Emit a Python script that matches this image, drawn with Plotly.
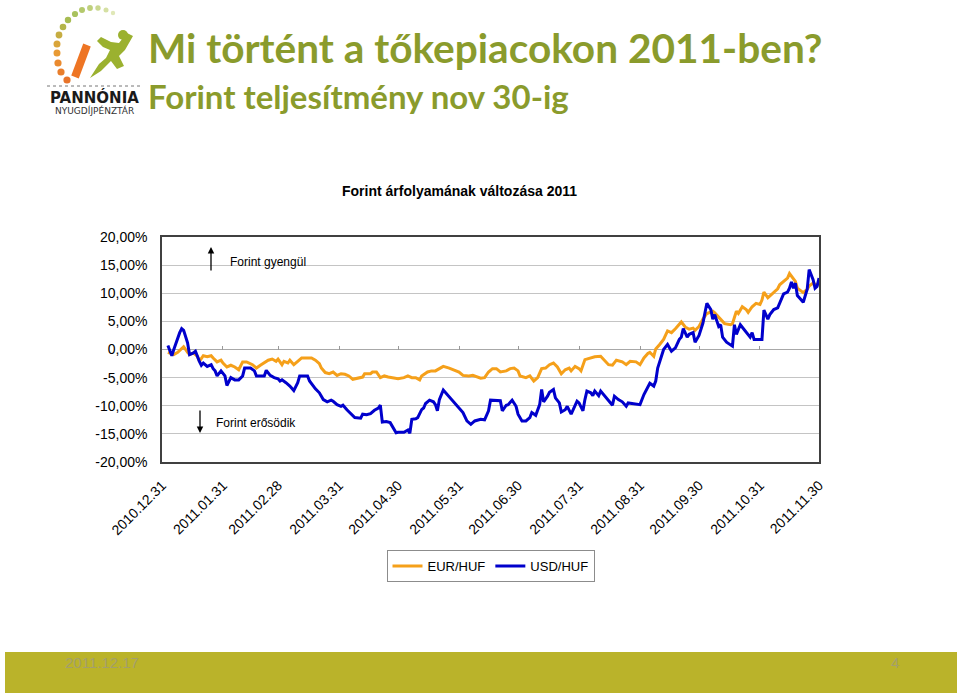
import plotly.graph_objects as go
import pandas as pd

# ---------------- data ----------------
base_date = "2010-12-31"

eur_days = [3, 6, 8, 10, 11, 13, 14, 16, 18, 19, 21, 23, 25, 26, 28, 30, 31, 33, 35, 37, 39, 41, 43, 46, 48, 50,
            52, 54, 56, 58, 59, 61, 62, 64, 65, 67, 69, 71, 74, 76, 78, 80, 81, 83, 85, 87, 89, 91, 93, 95, 97, 99,
            102, 103, 106, 107, 109, 111, 113, 115, 118, 120, 123, 125, 127, 129, 131, 132, 135, 137, 139, 141, 143,
            146, 148, 151, 153, 156, 158, 160, 162, 164, 166, 168, 170, 172, 175, 177, 179, 181, 182, 185, 187, 189,
            191, 193, 195, 197, 199, 201, 203, 205, 207, 208, 210, 212, 213, 215, 218, 220, 223, 225, 227, 229, 231,
            234, 236, 238, 241, 243, 245, 247, 248, 250, 251, 253, 255, 257, 259, 261, 263, 264, 266, 268, 270, 271,
            273, 275, 277, 280, 281, 283, 285, 286, 289, 290, 292, 293, 295, 297, 298, 300, 302, 304, 305, 306, 308,
            309, 311, 313, 314, 316, 318, 319, 320, 322, 323, 325, 326, 328, 329, 331, 333, 334]
eur_values = [-0.5, -0.9, -0.5, 0.1, 0.5, -0.5, -0.9, -0.6, -1.2, -2.1, -1.1, -1.3, -1.1, -1.5, -2.2, -1.9, -2.4,
              -3.1, -2.8, -3.1, -3.6, -2.2, -2.2, -2.7, -3.3, -2.8, -2.4, -1.9, -1.7, -2.1, -1.7, -2.7, -2.1, -2.4,
              -1.9, -2.7, -2.1, -1.5, -1.5, -1.5, -1.9, -2.5, -3.3, -4.1, -4.3, -4.0, -4.6, -4.3, -4.4, -4.7, -5.3,
              -5.1, -4.9, -4.3, -4.3, -4.0, -4.0, -5.0, -4.7, -4.9, -5.0, -5.2, -5.0, -4.7, -5.0, -5.0, -5.4, -4.7,
              -4.0, -3.8, -3.8, -3.4, -3.0, -3.3, -3.6, -4.0, -4.6, -4.7, -4.6, -4.9, -5.1, -5.0, -4.0, -3.4, -3.4,
              -4.0, -3.8, -3.4, -3.3, -3.8, -4.7, -5.0, -4.7, -5.6, -5.0, -3.4, -3.3, -2.7, -2.4, -3.1, -4.3, -3.6,
              -3.3, -3.8, -3.0, -3.4, -3.8, -1.8, -1.5, -1.3, -1.2, -1.9, -2.7, -2.8, -1.9, -2.2, -2.7, -2.1, -2.2,
              -2.7, -1.5, -0.7, -0.5, -1.2, 0.1, 0.9, 1.8, 3.3, 3.0, 3.7, 4.4, 4.9, 4.0, 3.6, 3.8, 3.4, 4.1, 5.4,
              6.4, 6.8, 6.5, 5.8, 5.0, 4.6, 4.4, 4.6, 6.8, 6.4, 7.6, 7.1, 6.6, 7.6, 8.2, 8.0, 8.8, 10.2, 9.2, 9.5,
              10.2, 10.8, 11.5, 12.1, 12.7, 13.5, 13.0, 12.1, 10.9, 10.4, 10.1, 10.7, 11.3, 11.8, 11.4, 12.0]

usd_days = [3, 5, 6, 8, 9, 10, 11, 13, 14, 16, 17, 19, 20, 21, 23, 25, 26, 27, 28, 30, 32, 33, 35, 37, 39, 41, 42,
            45, 47, 48, 51, 52, 53, 55, 57, 59, 60, 61, 63, 65, 67, 69, 70, 74, 75, 78, 80, 82, 84, 86, 87, 89, 91,
            92, 94, 97, 98, 101, 102, 104, 106, 108, 110, 111, 112, 114, 116, 119, 120, 123, 125, 126, 127, 129,
            130, 132, 133, 134, 136, 138, 139, 140, 141, 143, 145, 147, 149, 151, 153, 155, 157, 159, 162, 164,
            166, 167, 170, 172, 173, 175, 176, 178, 180, 181, 183, 185, 187, 188, 190, 192, 193, 194, 196, 197,
            199, 200, 202, 203, 205, 206, 208, 209, 211, 212, 214, 215, 216, 218, 219, 220, 222, 223, 225, 227,
            229, 230, 232, 234, 236, 237, 239, 241, 243, 245, 247, 248, 250, 251, 252, 254, 255, 257, 259, 261,
            263, 264, 265, 267, 268, 270, 271, 273, 275, 276, 277, 279, 280, 281, 282, 283, 284, 285, 287, 289,
            290, 291, 292, 294, 296, 297, 299, 300, 301, 303, 305, 306, 308, 309, 311, 313, 314, 316, 318, 319,
            320, 321, 322, 323, 324, 326, 328, 329, 331, 332, 333, 334]
usd_values = [0.7, -1.1, 0.0, 2.25, 3.0, 3.7, 3.4, 1.2, -0.9, -0.6, -0.3, -2.1, -2.8, -2.4, -3.0, -2.7, -3.4, -3.8,
              -4.7, -3.8, -4.7, -6.4, -5.0, -5.4, -5.4, -4.7, -3.3, -3.3, -3.8, -4.7, -4.7, -4.7, -3.7, -4.6, -5.0,
              -5.2, -5.6, -5.4, -5.9, -6.5, -7.3, -5.9, -4.7, -4.7, -5.6, -7.0, -7.7, -8.9, -9.3, -9.0, -9.2, -9.8,
              -10.1, -9.9, -10.7, -11.8, -12.1, -12.2, -11.5, -11.6, -11.4, -10.8, -10.4, -9.9, -12.9, -12.8, -13.0,
              -14.8, -14.7, -14.7, -14.3, -14.9, -12.4, -12.3, -12.1, -10.7, -10.4, -9.6, -9.0, -9.3, -9.8, -10.9,
              -8.9, -7.2, -8.0, -8.8, -9.5, -10.4, -11.2, -12.7, -13.3, -12.7, -12.4, -12.5, -10.9, -9.0, -9.1, -9.1,
              -10.9, -9.9, -9.8, -9.0, -10.1, -11.5, -12.7, -12.7, -12.1, -11.2, -11.7, -9.8, -7.1, -9.3, -8.3, -7.6,
              -7.1, -8.6, -9.5, -11.1, -10.7, -10.1, -11.5, -10.7, -9.2, -9.5, -10.9, -8.9, -7.4, -7.7, -8.2, -7.4,
              -8.2, -7.4, -8.3, -9.2, -9.9, -8.3, -8.9, -9.3, -10.1, -9.5, -9.6, -9.6, -9.8, -8.0, -6.8, -6.0, -6.5,
              -5.6, -3.3, -1.2, 0.0, 0.9, -0.3, 0.3, 1.8, 2.2, 3.7, 2.2, 2.7, 3.0, 1.3, 2.5, 4.7, 6.5, 8.2, 7.1, 5.4,
              6.2, 5.3, 4.1, 4.4, 2.2, 1.3, 0.9, 0.6, 4.4, 2.7, 4.4, 3.6, 3.0, 2.2, 3.0, 1.8, 1.8, 1.8, 7.0, 5.4,
              6.2, 7.1, 7.4, 8.3, 9.9, 10.2, 10.9, 12.0, 10.9, 11.8, 9.6, 9.2, 8.4, 10.7, 14.2, 12.4, 10.9, 11.2,
              12.7]

tick_dates = ["2010-12-31", "2011-01-31", "2011-02-28", "2011-03-31", "2011-04-30", "2011-05-31",
              "2011-06-30", "2011-07-31", "2011-08-31", "2011-09-30", "2011-10-31", "2011-11-30"]
tick_labels = ["2010.12.31", "2011.01.31", "2011.02.28", "2011.03.31", "2011.04.30", "2011.05.31",
               "2011.06.30", "2011.07.31", "2011.08.31", "2011.09.30", "2011.10.31", "2011.11.30"]
y_ticks = [-20, -15, -10, -5, 0, 5, 10, 15, 20]
y_tick_labels = ["-20,00%", "-15,00%", "-10,00%", "-5,00%", "0,00%", "5,00%", "10,00%", "15,00%", "20,00%"]

series_names = ["EUR/HUF", "USD/HUF"]
series_colors = ["#f5a01a", "#0000cc"]

# ---------------- helpers (layout positioning only) ----------------
W, H = 960, 696
PL, PR, PT, PB = 162, 819, 237, 462


def px(x):
    return (x - PL) / (PR - PL)


def py(y):
    return (PB - y) / (PB - PT)


base = pd.Timestamp(base_date)
eur_dates = base + pd.to_timedelta(eur_days, unit="D")
usd_dates = base + pd.to_timedelta(usd_days, unit="D")

AX_FONT = "Arial, Liberation Sans, sans-serif"
TITLE_GREEN = "#8a9b2c"

fig = go.Figure()
fig.add_trace(go.Scatter(x=eur_dates, y=eur_values, mode="lines", name=series_names[0],
                         line=dict(color=series_colors[0], width=3)))
fig.add_trace(go.Scatter(x=usd_dates, y=usd_values, mode="lines", name=series_names[1],
                         line=dict(color=series_colors[1], width=3)))
# carrier trace for the tick marks drawn on the zero line
fig.add_trace(go.Scatter(x=usd_dates, y=usd_values, mode="lines", xaxis="x2", yaxis="y",
                         line=dict(width=0, color="rgba(0,0,0,0)"), showlegend=False, hoverinfo="skip"))

x_range = [tick_dates[0], tick_dates[-1]]

shapes = []
annotations = []

# chart title
annotations.append(dict(xref="paper", yref="paper", x=px(459), y=py(191), xanchor="center", yanchor="middle",
                        text="<b>Forint árfolyamának változása 2011</b>", showarrow=False,
                        font=dict(family=AX_FONT, size=14, color="#000000")))
# slide titles
annotations.append(dict(xref="paper", yref="paper", x=px(146), y=py(48), xanchor="left", yanchor="middle",
                        text="<b>Mi történt a tőkepiacokon 2011-ben?</b>", showarrow=False,
                        font=dict(family="Lato, Open Sans, sans-serif", size=40.6, color=TITLE_GREEN)))
annotations.append(dict(xref="paper", yref="paper", x=px(146), y=py(96), xanchor="left", yanchor="middle",
                        text="<b>Forint teljesítmény nov 30-ig</b>", showarrow=False,
                        font=dict(family="Lato, Open Sans, sans-serif", size=33, color=TITLE_GREEN)))
# in-chart notes and arrows
annotations.append(dict(xref="paper", yref="paper", x=px(228), y=py(262), xanchor="left", yanchor="middle",
                        text="Forint gyengül", showarrow=False,
                        font=dict(family=AX_FONT, size=12, color="#000000")))
annotations.append(dict(xref="paper", yref="paper", x=px(214), y=py(423), xanchor="left", yanchor="middle",
                        text="Forint erősödik", showarrow=False,
                        font=dict(family=AX_FONT, size=12, color="#000000")))
annotations.append(dict(xref="paper", yref="paper", x=px(211), y=py(247), ax=0, ay=25, text="",
                        showarrow=True, arrowhead=2, arrowsize=1, arrowwidth=1.3, arrowcolor="#000000"))
annotations.append(dict(xref="paper", yref="paper", x=px(200), y=py(433), ax=0, ay=-24, text="",
                        showarrow=True, arrowhead=2, arrowsize=1, arrowwidth=1.3, arrowcolor="#000000"))

# footer bar
shapes.append(dict(type="rect", xref="paper", yref="paper", x0=px(5), x1=px(957), y0=py(693), y1=py(652),
                   fillcolor="#bab32a", line=dict(width=0), layer="below"))
annotations.append(dict(xref="paper", yref="paper", x=px(63), y=py(662), xanchor="left", yanchor="middle",
                        text="2011.12.17", showarrow=False,
                        font=dict(family="Liberation Sans Narrow, Arial Narrow, sans-serif", size=15,
                                  color="#a39f6c")))
annotations.append(dict(xref="paper", yref="paper", x=px(895), y=py(662), xanchor="center", yanchor="middle",
                        text="4", showarrow=False,
                        font=dict(family="Liberation Sans Narrow, Arial Narrow, sans-serif", size=15,
                                  color="#a39f6c")))

# logo: dotted arc
arc_dots = [(67, 80, "#e8742a", 3.6), (61, 72, "#e97e2c", 3.6), (58, 63, "#ea8a2e", 3.6),
            (57, 53, "#e89a34", 3.5), (57, 44, "#d9a53a", 3.5), (59, 35, "#c6ad42", 3.4),
            (63, 27, "#b4b54a", 3.3), (68, 20, "#a7bc52", 3.2), (75, 14, "#a9c25e", 3.1),
            (82, 10, "#b4c96c", 3.0), (90, 8, "#bfd07c", 2.9), (98, 8, "#cad88f", 2.7),
            (106, 10, "#d5e0a3", 2.5), (113, 13, "#e0e8b8", 2.2)]
for (cx, cy, col, r) in arc_dots:
    shapes.append(dict(type="circle", xref="paper", yref="paper", x0=px(cx - r), x1=px(cx + r),
                       y0=py(cy + r), y1=py(cy - r), fillcolor=col, line=dict(width=0)))
# orange slash
shapes.append(dict(type="line", xref="paper", yref="paper", x0=px(75), y0=py(77), x1=px(87), y1=py(45),
                   line=dict(color="#ee7524", width=8)))
# green leaping figure
fig_pts = [(90, 78), (99, 64), (106, 58), (110, 50), (103, 47), (97, 41), (101, 37), (111, 42), (119, 43),
           (127, 33), (133, 36), (125, 50), (119, 56), (124, 66), (117, 69), (111, 61), (101, 71)]
path = "M " + " L ".join(f"{px(a):.5f},{py(b):.5f}" for a, b in fig_pts) + " Z"
shapes.append(dict(type="path", xref="paper", yref="paper", path=path, fillcolor="#9bb12f",
                   line=dict(width=0)))
shapes.append(dict(type="circle", xref="paper", yref="paper", x0=px(118), x1=px(128), y0=py(40), y1=py(30),
                   fillcolor="#9bb12f", line=dict(width=0)))
# dotted rule above logo text
shapes.append(dict(type="line", xref="paper", yref="paper", x0=px(47), x1=px(141), y0=py(86), y1=py(86),
                   line=dict(color="#777777", width=1, dash="dot")))
annotations.append(dict(xref="paper", yref="paper", x=px(94), y=py(97), xanchor="center", yanchor="middle",
                        text="<b>PANNÓNIA</b>", showarrow=False,
                        font=dict(family="DejaVu Sans, sans-serif", size=15, color="#1a1a1a")))
annotations.append(dict(xref="paper", yref="paper", x=px(94), y=py(111), xanchor="center", yanchor="middle",
                        text="NYUGDÍJPÉNZTÁR", showarrow=False,
                        font=dict(family="DejaVu Sans, sans-serif", size=9, color="#333333")))

fig.update_layout(
    width=W, height=H,
    margin=dict(l=PL, r=W - PR, t=PT, b=H - PB, pad=0),
    paper_bgcolor="#ffffff", plot_bgcolor="#ffffff",
    showlegend=True,
    legend=dict(orientation="h", x=0.5, xanchor="center", y=py(550), yanchor="top",
                bordercolor="#8c8c8c", borderwidth=1, bgcolor="#ffffff",
                font=dict(family=AX_FONT, size=13, color="#000000"), itemwidth=30),
    xaxis=dict(type="date", range=x_range, tickvals=tick_dates, ticktext=tick_labels, tickangle=-45,
               showgrid=False, zeroline=False, showline=True, linecolor="#404040", linewidth=1.5, mirror=True,
               ticks="", ticklabelstandoff=8, tickfont=dict(family=AX_FONT, size=14, color="#000000")),
    xaxis2=dict(type="date", range=x_range, overlaying="x", anchor="free", position=0.5,
                tickvals=tick_dates, ticks="inside", ticklen=4, tickcolor="#9a9a9a", tickwidth=1,
                showticklabels=False, showgrid=False, zeroline=False, showline=False),
    yaxis=dict(range=[-20, 20], tickvals=y_ticks, ticktext=y_tick_labels, showgrid=True,
               gridcolor="#c4c4c4", gridwidth=1, zeroline=True, zerolinecolor="#a8a8a8", zerolinewidth=1,
               showline=True, linecolor="#404040", linewidth=1.5, mirror=True, ticks="",
               ticklabelstandoff=10, tickfont=dict(family=AX_FONT, size=14, color="#000000")),
    shapes=shapes,
    annotations=annotations,
    hovermode=False,
)

fig.write_html("out.html", config={"displayModeBar": False},
               post_script="document.body.style.margin='0';document.body.style.overflow='hidden';")
